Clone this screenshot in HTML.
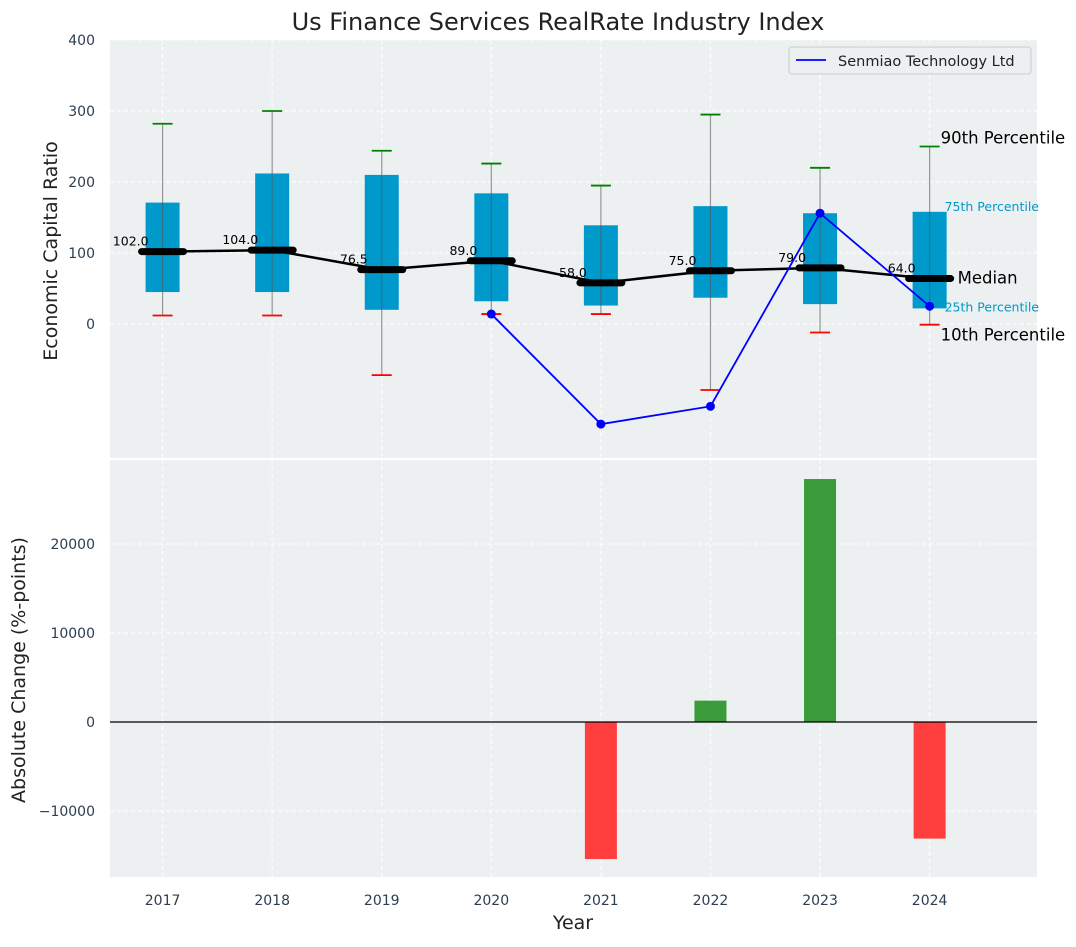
<!DOCTYPE html>
<html><head><meta charset="utf-8"><style>
body{margin:0;background:#fff;font-family:"Liberation Sans","DejaVu Sans",sans-serif;}
svg text{font-family:"DejaVu Sans","Liberation Sans",sans-serif;}
</style></head><body>
<svg id="c" width="1076" height="942" xmlns="http://www.w3.org/2000/svg"></svg>
<script>
const years=[2017,2018,2019,2020,2021,2022,2023,2024];
const p10=[12,12,-72,14,14,-93,-12,-1];
const q1=[45,45,20,32,26,37,28,22];
const med=[102,104,76.5,89,58,75,79,64];
const q3=[171,212,210,184,139,166,156,158];
const p90=[282,300,244,226,195,295,220,250];
const compYears=[2020,2021,2022,2023,2024];
const compVals=[14,-141,-116,156,25];
const chgYears=[2021,2022,2023,2024];
const chgVals=[-15400,2400,27300,-13100];
const topTicks=[0,100,200,300,400];
const botTicks=[-10000,0,10000,20000];

const svg=document.getElementById('c');
const NS='http://www.w3.org/2000/svg';
function el(t,a,p){const e=document.createElementNS(NS,t);for(const k in a)e.setAttribute(k,a[k]);(p||svg).appendChild(e);return e;}
function tx(x,y,s,a,p){const e=el('text',Object.assign({x:x,y:y},a),p);e.textContent=s;return e;}
const X0=110,X1=1037;
const x=v=>X0+(v-2016.52)/(2024.98-2016.52)*(X1-X0);
const yT=v=>324-v*0.71;
const yB=v=>722-v*0.0089;

el('rect',{x:X0,y:40,width:X1-X0,height:418,fill:'#ecf0f1'});
el('rect',{x:X0,y:460,width:X1-X0,height:417,fill:'#ecf0f1'});

const g=el('g',{stroke:'#fff','stroke-dasharray':'4,3','stroke-width':1});

years.forEach(v=>{el('line',{x1:x(v),x2:x(v),y1:40,y2:458},g);el('line',{x1:x(v),x2:x(v),y1:460,y2:877},g);});
topTicks.forEach(v=>el('line',{x1:X0,x2:X1,y1:yT(v),y2:yT(v)},g));
botTicks.forEach(v=>el('line',{x1:X0,x2:X1,y1:yB(v),y2:yB(v)},g));

const t=tx(558,30,'Us Finance Services RealRate Industry Index',{'text-anchor':'middle','font-size':24,fill:'#222'});


topTicks.forEach(v=>{const e=tx(95,yT(v)+5,String(v),{'text-anchor':'end','font-size':14,fill:'#2c3e50'});});
const yt=tx(57,251,'Economic Capital Ratio',{'text-anchor':'middle','font-size':19,fill:'#222',transform:'rotate(-90 57 251)'});


years.forEach((yr,i)=>{
  const cx=x(yr),grp=el('g',{});
  
  el('rect',{x:cx-17,y:yT(q3[i]),width:34,height:yT(q1[i])-yT(q3[i]),fill:'#0099cc'},grp);
  el('line',{x1:cx,x2:cx,y1:yT(p90[i]),y2:yT(p10[i]),stroke:'#555','stroke-opacity':0.6,'stroke-width':1.2},grp);
  el('line',{x1:cx-10,x2:cx+10,y1:yT(p90[i]),y2:yT(p90[i]),stroke:'green','stroke-width':1.8},grp);
  el('line',{x1:cx-10,x2:cx+10,y1:yT(p10[i]),y2:yT(p10[i]),stroke:'red','stroke-width':1.8},grp);
});
let d='';years.forEach((yr,i)=>d+=(i?'L':'M')+x(yr)+','+yT(med[i]));
el('path',{d:d,fill:'none',stroke:'#000','stroke-width':2.5});
years.forEach((yr,i)=>{
  const cx=x(yr);
  const m=el('line',{x1:cx-21,x2:cx+21,y1:yT(med[i]),y2:yT(med[i]),stroke:'#000','stroke-width':7,'stroke-linecap':'round'});
  
  const l=tx(cx-14,yT(med[i])-6,med[i].toFixed(1),{'text-anchor':'end','font-size':12.5,fill:'#000'});
  
});
let d2='';compYears.forEach((yr,i)=>d2+=(i?'L':'M')+x(yr)+','+yT(compVals[i]));
el('path',{d:d2,fill:'none',stroke:'blue','stroke-width':1.8});
compYears.forEach((yr,i)=>{const c=el('circle',{cx:x(yr),cy:yT(compVals[i]),r:4.5,fill:'blue'});});

const lx=x(2024);const ann=[['90th Percentile',p90[7],16.5,'#000',11,-8],['75th Percentile',q3[7],12.5,'#0099cc',15,-6],['Median',med[7],16.5,'#000',28,0],['25th Percentile',q1[7],12.5,'#0099cc',15,-2],['10th Percentile',p10[7],16.5,'#000',11,11]];
ann.forEach(a=>{const e=tx(lx+a[4],yT(a[1])+a[5]+5,a[0],{'font-size':a[2],fill:a[3]});});

const lg=el('g',{});
el('rect',{x:789,y:47,width:242,height:27,rx:3,fill:'#ecf0f1',stroke:'#ccc'},lg);
el('line',{x1:796,x2:826,y1:60,y2:60,stroke:'blue','stroke-width':1.8},lg);
tx(838,66,'Senmiao Technology Ltd',{'font-size':14.5,fill:'#222'},lg);

botTicks.forEach(v=>{const e=tx(95,yB(v)+5,v<0?'\u2212'+Math.abs(v):String(v),{'text-anchor':'end','font-size':14,fill:'#2c3e50'});});
chgYears.forEach((yr,i)=>{const v=chgVals[i];const r=el('rect',{x:x(yr)-16,y:Math.min(yB(v),yB(0)),width:32,height:Math.abs(yB(v)-yB(0)),fill:v>=0?'#3a9b3a':'#ff3e3e'});});
el('line',{x1:X0,x2:X1,y1:yB(0),y2:yB(0),stroke:'#000','stroke-width':1.2});
years.forEach(yr=>{const e=tx(x(yr),905,String(yr),{'text-anchor':'middle','font-size':14,fill:'#2c3e50'});});
const xt=tx(573,929,'Year',{'text-anchor':'middle','font-size':19,fill:'#222'});
const bt=tx(25,670,'Absolute Change (%-points)',{'text-anchor':'middle','font-size':19,fill:'#222',transform:'rotate(-90 25 670)'});
</script>
</body></html>
